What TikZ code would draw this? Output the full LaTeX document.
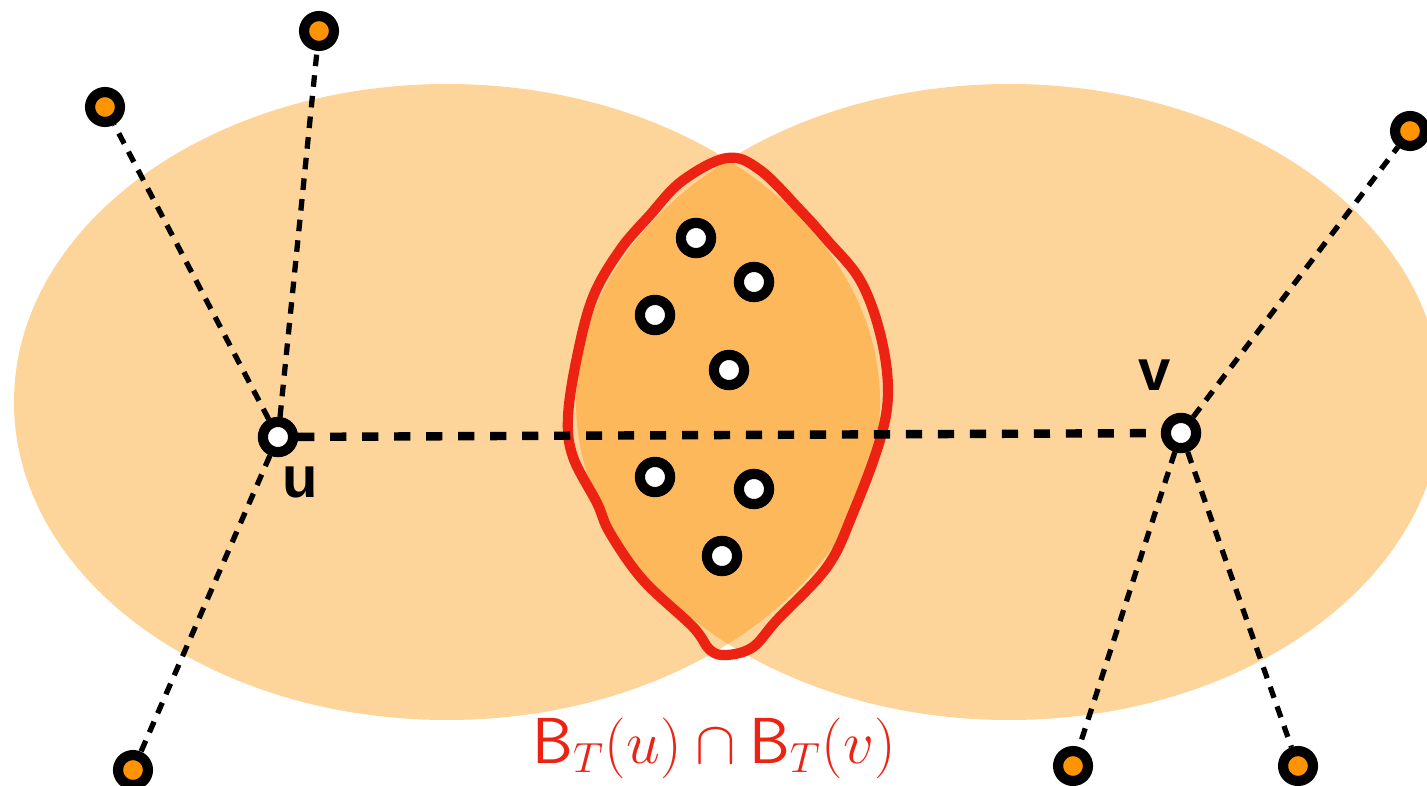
\documentclass[tikz,border=0pt]{standalone}
\usepackage{fontspec}
\usepackage{amssymb}
\usepackage{tikz}
\usetikzlibrary{calc}
\newfontfamily\lblfont{Liberation Sans}
\definecolor{C0}{RGB}{253,212,153}
\definecolor{C1}{RGB}{253,184, 92}
\definecolor{C2}{RGB}{236, 34, 18}
\definecolor{C3}{RGB}{255,148,  0}

\tikzset{
    hub/.style={circle, draw=black, line width=2.9pt, fill=white, minimum size=8.6pt, inner sep=0pt},
    leaf/.style={circle, draw=black, line width=2.9pt, fill=C3, minimum size=8.5pt, inner sep=0pt},
    mainlink/.style={black, line width=2.4pt, dash pattern=on 4.6pt off 4.5pt},
    spoke/.style={black, line width=1.5pt, dash pattern=on 3.3pt off 2.6pt},
}

\begin{document}
\begin{tikzpicture}[scale=1.0]

    \useasboundingbox (0,0) rectangle (14.27,7.85);

    %% --- Balls ---
    \begin{scope}
        \clip (0,0) rectangle (14.27,7.85);
        \fill[C0] (4.47,3.83) ellipse [x radius=4.33, y radius=3.18];
        \fill[C0] (10.09,3.83) ellipse [x radius=4.33, y radius=3.18];
        \clip (4.47,3.83) ellipse [x radius=4.33, y radius=3.18];
        \fill[C1] (10.09,3.83) ellipse [x radius=4.33, y radius=3.18];
    \end{scope}

    %% Intersection outline
    \draw[C2, line width=2.9pt] plot[smooth cycle, tension=0.6] coordinates {
        (7.27,6.27) (7.60,6.15) (8.00,5.75) (8.27,5.45) (8.60,5.05) (8.80,4.52)
        (8.88,3.95) (8.80,3.45) (8.53,2.72) (8.27,2.18) (7.77,1.65) (7.53,1.38)
        (7.27,1.30) (7.10,1.35) (6.93,1.58) (6.43,2.05) (6.10,2.52) (5.97,2.82)
        (5.73,3.28) (5.68,3.68) (5.77,4.28) (5.93,4.88) (6.20,5.35) (6.50,5.70)
        (6.82,6.04)};

    %% --- Vertices ---
    \node[hub] (u) at (2.78,3.48) {};
    \node[hub] (v) at (11.81,3.52) {};

    \node[leaf] (u1) at (3.19,7.54) {};
    \node[leaf] (u2) at (1.05,6.78) {};
    \node[leaf] (u3) at (1.33,0.15) {};

    \node[leaf] (v1) at (14.10,6.54) {};
    \node[leaf] (v2) at (10.73,0.19) {};
    \node[leaf] (v3) at (12.98,0.19) {};

    %% Common neighbourhood
    \node[hub] (w1) at (6.96,5.47) {};
    \node[hub] (w2) at (7.54,5.03) {};
    \node[hub] (w3) at (6.55,4.70) {};
    \node[hub] (w4) at (7.29,4.15) {};
    \node[hub] (w5) at (6.55,3.08) {};
    \node[hub] (w6) at (7.54,2.96) {};
    \node[hub] (w7) at (7.22,2.29) {};

    %% --- Paths ---
    \draw[mainlink] (u) -- (v);
    \draw[spoke] (u) -- (u1);
    \draw[spoke] (u) -- (u2);
    \draw[spoke] (u) -- (u3);
    \draw[spoke] (v) -- (v1);
    \draw[spoke] (v) -- (v2);
    \draw[spoke] (v) -- (v3);

    %% Labels
    \node (ulab) at (3.00,3.03) {\fontsize{16.5}{18}\lblfont\bfseries u};
    \node (vlab) at (11.55,4.10) {\fontsize{16.5}{18}\lblfont\bfseries v};
    \node[C2] (cap) at (7.14,0.37) {\fontsize{18.5}{22}\selectfont$\mathsf{B}_T(u)\cap\mathsf{B}_T(v)$};

\end{tikzpicture}
\end{document}
